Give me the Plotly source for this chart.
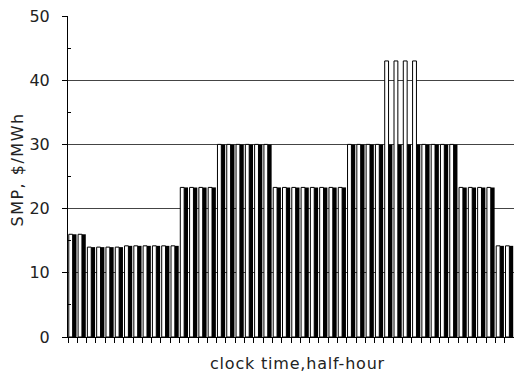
import plotly.graph_objects as go

# half-hour periods 1..48
slots = list(range(1, 49))

# black bars (SMP, $/MWh)
smp_black = [16.0, 16.0,
             14.0, 14.0, 14.0, 14.0, 14.2, 14.2, 14.2, 14.2, 14.2, 14.2,
             23.3, 23.3, 23.3, 23.3,
             30.0, 30.0, 30.0, 30.0, 30.0, 30.0,
             23.3, 23.3, 23.3, 23.3, 23.3, 23.3, 23.3, 23.3,
             30.0, 30.0, 30.0, 30.0, 30.0, 30.0, 30.0, 30.0, 30.0, 30.0, 30.0, 30.0,
             23.3, 23.3, 23.3, 23.3,
             14.2, 14.2]

# white (outlined) bars
smp_white = [16.0, 16.0,
             14.0, 14.0, 14.0, 14.0, 14.2, 14.2, 14.2, 14.2, 14.2, 14.2,
             23.3, 23.3, 23.3, 23.3,
             30.0, 30.0, 30.0, 30.0, 30.0, 30.0,
             23.3, 23.3, 23.3, 23.3, 23.3, 23.3, 23.3, 23.3,
             30.0, 30.0, 30.0, 30.0, 43.0, 43.0, 43.0, 43.0, 30.0, 30.0, 30.0, 30.0,
             23.3, 23.3, 23.3, 23.3,
             14.2, 14.2]

y_ticks = [0, 10, 20, 30, 40, 50]

fig = go.Figure()
fig.add_trace(go.Bar(x=slots, y=smp_white, marker=dict(color="white", line=dict(color="black", width=1)),
                     showlegend=False, hoverinfo="skip"))
fig.add_trace(go.Bar(x=slots, y=smp_black, marker=dict(color="black", line=dict(color="black", width=0)),
                     showlegend=False, hoverinfo="skip"))

font = "DejaVu Sans, Liberation Sans, sans-serif"
L, R, T, B = 68, 0, 16, 38
W, H = 514, 375
fig.update_layout(
    width=W, height=H,
    margin=dict(l=L, r=R, t=T, b=B, autoexpand=False),
    paper_bgcolor="white", plot_bgcolor="white",
    barmode="group", bargap=0.17, bargroupgap=0.0,
    font=dict(family=font, color="#222"),
    xaxis=dict(range=[0.5, 48.5], showgrid=False, zeroline=False, automargin=False,
               showline=True, linecolor="black", linewidth=1,
               tickmode="array", tickvals=[s - 0.5 for s in slots] + [48.5],
               ticks="outside", ticklen=5, tickcolor="black", tickwidth=1,
               showticklabels=False),
    yaxis=dict(range=[0, 50], tickmode="array", tickvals=y_ticks, automargin=False,
               ticktext=[str(v) for v in y_ticks],
               showgrid=True, gridcolor="#444", gridwidth=1, zeroline=False,
               showline=True, linecolor="black", linewidth=1,
               ticks="outside", ticklen=5, tickcolor="black", tickwidth=1,
               ticklabelstandoff=9,
               tickfont=dict(size=16, color="#222"),
               minor=dict(tickvals=[5, 15, 25, 35, 45], ticks="inside", ticklen=3,
                          tickcolor="black", showgrid=False)),
)

pw = W - L - R
ph = H - T - B


def px2paper(px, py):
    return (px - L) / pw, 1 - (py - T) / ph


ax, ay = px2paper(17, 170)
bx, by = px2paper(297, 363)
fig.add_annotation(text="SMP, $/MWh", x=ax, y=ay, xref="paper", yref="paper", showarrow=False,
                   textangle=-90, xanchor="center", yanchor="middle",
                   font=dict(size=16, color="#222"))
fig.add_annotation(text="clock time,half-hour", x=bx, y=by, xref="paper", yref="paper",
                   showarrow=False, xanchor="center", yanchor="middle",
                   font=dict(size=16, color="#222"))

post = ("document.body.style.margin='0';document.body.style.overflow='hidden';"
        "var a=document.querySelectorAll('.annotation-text');"
        "if(a[0]){a[0].style.letterSpacing='1.5px';}"
        "if(a[1]){a[1].style.letterSpacing='0.8px';}")
fig.write_html("out.html", config={"displayModeBar": False}, post_script=post)
